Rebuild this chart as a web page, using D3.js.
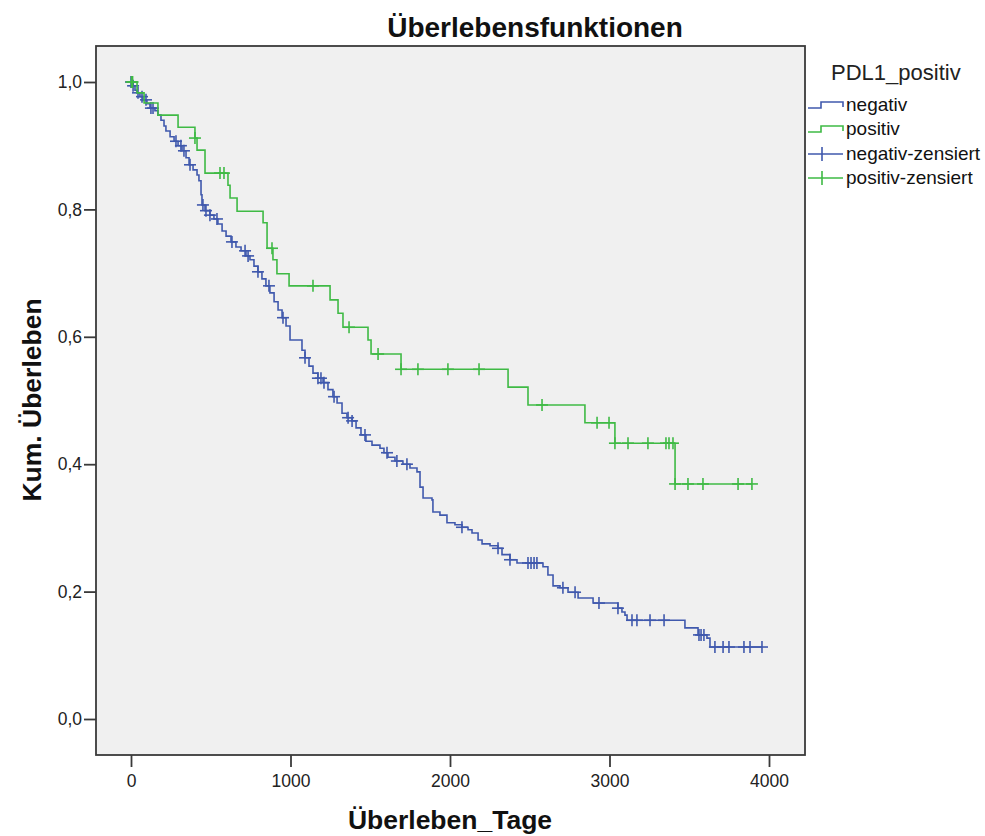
<!DOCTYPE html>
<html>
<head>
<meta charset="utf-8">
<script src="https://cdn.jsdelivr.net/npm/d3@7"></script>
<style>
  body { margin: 0; background: #fff; }
  svg { font-family: "Liberation Sans", Arial, sans-serif; }
</style>
</head>
<body>
<script>
// Kaplan-Meier steps: time of event (days) and survival after it
const negTimes = [13, 25, 38, 56, 75, 100, 119, 150, 169, 188, 207, 219, 245, 270, 295, 320, 345, 364, 389, 414,
  426, 439, 445, 464, 495, 520, 545, 571, 596, 627, 658, 690, 721, 746, 771, 796, 821, 846, 871, 897,
  922, 947, 972, 997, 1072, 1091, 1116, 1141, 1172, 1204, 1235, 1266, 1292, 1323, 1354, 1386, 1411, 1442, 1473, 1511,
  1561, 1586, 1611, 1655, 1705, 1749, 1793, 1812, 1831, 1887, 1893, 1937, 1981, 2031, 2075, 2113, 2138, 2176, 2201, 2251,
  2301, 2326, 2376, 2420, 2583, 2614, 2646, 2690, 2740, 2803, 2897, 3053, 3078, 3097, 3110, 3473, 3555, 3611, 3630];
const negSurv = [0.994, 0.987, 0.983, 0.977, 0.972, 0.966, 0.959, 0.955, 0.948, 0.940, 0.931, 0.923, 0.914, 0.907, 0.900, 0.892, 0.881, 0.870, 0.862, 0.854,
  0.845, 0.823, 0.807, 0.798, 0.791, 0.785, 0.777, 0.766, 0.758, 0.749, 0.741, 0.735, 0.727, 0.721, 0.711, 0.702, 0.691, 0.680, 0.669, 0.655,
  0.642, 0.630, 0.617, 0.595, 0.579, 0.567, 0.554, 0.543, 0.535, 0.528, 0.517, 0.506, 0.496, 0.480, 0.473, 0.468, 0.457, 0.446, 0.436, 0.430,
  0.425, 0.418, 0.411, 0.405, 0.400, 0.394, 0.388, 0.364, 0.347, 0.344, 0.325, 0.320, 0.308, 0.305, 0.301, 0.297, 0.292, 0.281, 0.275, 0.272,
  0.268, 0.258, 0.250, 0.245, 0.239, 0.226, 0.209, 0.206, 0.199, 0.190, 0.182, 0.174, 0.168, 0.163, 0.155, 0.143, 0.132, 0.127, 0.113];
const negCensored = [0, 13, 44, 69, 94, 125, 138, 282, 313, 332, 370, 451, 470, 495, 539, 633, 715, 734, 796, 865,
  953, 1091, 1172, 1191, 1210, 1273, 1361, 1386, 1467, 1605, 1667, 1730, 2075, 2301, 2376, 2489, 2508, 2527, 2545, 2708,
  2784, 2934, 3053, 3141, 3172, 3254, 3342, 3561, 3574, 3592, 3661, 3712, 3749, 3843, 3881, 3956];

const posTimes = [38, 82, 169, 295, 401, 414, 464, 608, 621, 665, 828, 853, 890, 915, 991, 1248, 1298, 1329, 1486, 1505,
  1693, 2364, 2489, 2846, 3034, 3411];
const posSurv = [0.983, 0.967, 0.948, 0.929, 0.912, 0.893, 0.857, 0.838, 0.818, 0.797, 0.779, 0.739, 0.721, 0.699, 0.680, 0.658, 0.637, 0.615, 0.595, 0.573,
  0.549, 0.521, 0.493, 0.465, 0.433, 0.369];
const posCensored = [3, 10, 401, 558, 583, 884, 1141, 1367, 1549, 1693, 1799, 1987, 2182, 2577, 2922, 2997, 3034, 3116, 3241, 3354,
  3373, 3398, 3411, 3492, 3586, 3806, 3893];

const xTicks = [0, 1000, 2000, 3000, 4000];
const yTicks = [0, 0.2, 0.4, 0.6, 0.8, 1.0];
const legendTitle = "PDL1_positiv";
const legendLabels = ["negativ", "positiv", "negativ-zensiert", "positiv-zensiert"];

document.addEventListener('DOMContentLoaded', function () {
  const blue = "#4059ad", green = "#3fba45";
  const frame = { left: 96, top: 46, right: 805, bottom: 755 };

  const xScale = d3.scaleLinear().domain([0, 4000]).range([131, 769]);
  const yScale = d3.scaleLinear().domain([0, 1]).range([719, 82]);

  const svg = d3.select("body").append("svg")
    .attr("width", 985)
    .attr("height", 836);

  svg.append("rect")
    .attr("x", frame.left).attr("y", frame.top)
    .attr("width", frame.right - frame.left)
    .attr("height", frame.bottom - frame.top)
    .attr("fill", "#f0f0f0");

  // survival value at time t (step function)
  function survAt(times, surv, t) {
    let s = 1;
    times.forEach((d, i) => { if (d <= t) s = surv[i]; });
    return s;
  }

  function curvePoints(times, surv, censored) {
    const pts = [[0, 1]];
    times.forEach((t, i) => pts.push([t, surv[i]]));
    const end = d3.max(censored.concat(times));
    pts.push([end, survAt(times, surv, end)]);
    return pts;
  }

  const line = d3.line()
    .x(d => xScale(d[0]))
    .y(d => yScale(d[1]))
    .curve(d3.curveStepAfter);

  const groups = [
    { times: negTimes, surv: negSurv, cens: negCensored, color: blue },
    { times: posTimes, surv: posSurv, cens: posCensored, color: green }
  ];

  groups.forEach(g => {
    svg.append("path")
      .datum(curvePoints(g.times, g.surv, g.cens))
      .attr("d", line)
      .attr("fill", "none")
      .attr("stroke", g.color)
      .attr("stroke-width", 1.6);

    const marks = svg.append("g").selectAll("g")
      .data(g.cens)
      .enter().append("g")
      .attr("transform", t => "translate(" + xScale(t) + "," + yScale(survAt(g.times, g.surv, t)) + ")");
    marks.append("line").attr("x1", -6).attr("x2", 6).attr("y1", 0).attr("y2", 0)
      .attr("stroke", g.color).attr("stroke-width", 1.6);
    marks.append("line").attr("x1", 0).attr("x2", 0).attr("y1", -6).attr("y2", 6)
      .attr("stroke", g.color).attr("stroke-width", 1.6);
  });

  // frame
  svg.append("rect")
    .attr("x", frame.left).attr("y", frame.top)
    .attr("width", frame.right - frame.left)
    .attr("height", frame.bottom - frame.top)
    .attr("fill", "none")
    .attr("stroke", "#3a3a3a")
    .attr("stroke-width", 1.8);

  const xAxis = d3.axisBottom(xScale).tickValues(xTicks).tickSize(12).tickPadding(8)
    .tickFormat(d => String(d));
  const yAxis = d3.axisLeft(yScale).tickValues(yTicks).tickSize(12).tickPadding(2)
    .tickFormat(d => d3.format(".1f")(d).replace(".", ","));

  const gx = svg.append("g").attr("transform", "translate(0," + frame.bottom + ")").call(xAxis);
  const gy = svg.append("g").attr("transform", "translate(" + frame.left + ",0)").call(yAxis);
  [gx, gy].forEach(g => {
    g.select(".domain").remove();
    g.selectAll("line").attr("stroke", "#3a3a3a").attr("stroke-width", 1.8);
    g.selectAll("text").attr("font-size", 17.5).attr("fill", "#222")
      .attr("font-family", "'Liberation Sans', Arial, sans-serif");
  });

  svg.append("text")
    .attr("x", 535).attr("y", 37)
    .attr("text-anchor", "middle")
    .attr("font-size", 28).attr("font-weight", "bold").attr("fill", "#111")
    .text("Überlebensfunktionen");

  svg.append("text")
    .attr("x", 450).attr("y", 829)
    .attr("text-anchor", "middle")
    .attr("font-size", 26.5).attr("font-weight", "bold").attr("fill", "#111")
    .text("Überleben_Tage");

  svg.append("text")
    .attr("transform", "translate(41,400) rotate(-90)")
    .attr("text-anchor", "middle")
    .attr("font-size", 26.5).attr("font-weight", "bold").attr("fill", "#111")
    .text("Kum. Überleben");

  // legend
  svg.append("text")
    .attr("x", 831).attr("y", 80)
    .attr("font-size", 22).attr("fill", "#222")
    .text(legendTitle);

  const legendY = [105, 129, 154, 178];
  const legendColors = [blue, green, blue, green];
  legendLabels.forEach((label, i) => {
    const y = legendY[i];
    if (i < 2) {
      svg.append("path")
        .attr("d", "M808," + (y + 3) + "H821V" + (y - 3) + "H843V" + (y + 2))
        .attr("fill", "none").attr("stroke", legendColors[i]).attr("stroke-width", 1.6);
    } else {
      svg.append("path")
        .attr("d", "M808," + y + "H843M822," + (y - 7) + "V" + (y + 7))
        .attr("fill", "none").attr("stroke", legendColors[i]).attr("stroke-width", 1.6);
    }
    svg.append("text")
      .attr("x", 846).attr("y", y + 6)
      .attr("font-size", 19).attr("fill", "#111")
      .text(label);
  });
});
</script>
</body>
</html>
